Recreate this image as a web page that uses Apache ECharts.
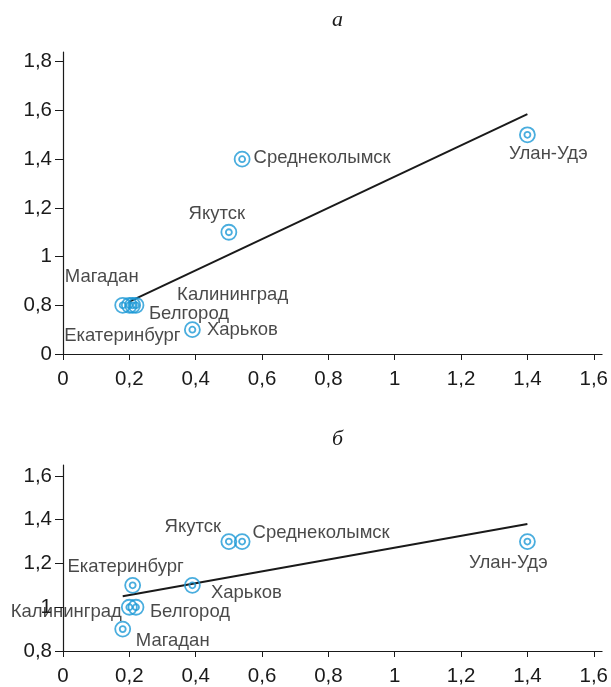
<!DOCTYPE html>
<html>
<head>
<meta charset="utf-8">
<script src="https://cdn.jsdelivr.net/npm/echarts@6/dist/echarts.min.js"></script>
<style>
  html, body { margin: 0; padding: 0; background: #fff; }
  #chart { width: 611px; height: 687px; }
</style>
</head>
<body>
<div id="chart"></div>
<script>
// города (одинаковый порядок для обеих панелей)
var cities = ['Магадан', 'Екатеринбург', 'Калининград', 'Белгород', 'Харьков', 'Якутск', 'Среднеколымск', 'Улан-Удэ'];

// панель а (ось y с разрывом: нижняя метка "0" стоит на месте 0,6)
var xA = [0.18, 0.20, 0.21, 0.22, 0.39, 0.50, 0.54, 1.40];
var yA = [0.8, 0.8, 0.8, 0.8, 0.7, 1.1, 1.4, 1.5];
var trendA = [[0.2, 0.815], [1.4, 1.585]];

// панель б
var xB = [0.18, 0.21, 0.20, 0.22, 0.39, 0.50, 0.54, 1.40];
var yB = [0.9, 1.1, 1.0, 1.0, 1.1, 1.3, 1.3, 1.3];
var trendB = [[0.18, 1.05], [1.4, 1.38]];

// подписи осей
var xTicks = [0, 0.2, 0.4, 0.6, 0.8, 1, 1.2, 1.4, 1.6];
var yTicksA = [0.6, 0.8, 1, 1.2, 1.4, 1.6, 1.8];
var yTicksB = [0.8, 1, 1.2, 1.4, 1.6];

// смещения подписей городов (px от центра значка)
var offA = {
    'Магадан': [-21, -28], 'Екатеринбург': [-7, 31], 'Калининград': [100, -10], 'Белгород': [53, 9],
    'Харьков': [50, 0], 'Якутск': [-12, -18], 'Среднеколымск': [80, -1], 'Улан-Удэ': [21, 19]
};
var offB = {
    'Магадан': [50, 12], 'Екатеринбург': [-7, -18], 'Калининград': [-63, 5], 'Белгород': [54, 5],
    'Харьков': [54, 8], 'Якутск': [-36, -15], 'Среднеколымск': [79, -9], 'Улан-Удэ': [-19, 21]
};

var ink = '#1a1a1a';
var blue = '#1b98d6';
var font = 'Liberation Sans';

function fmt(v) {
    return String(Math.round(v * 10) / 10).replace('.', ',');
}

function points(xs, ys, offs) {
    return cities.map(function(c, i) {
        return {
            name: c,
            value: [xs[i], ys[i]],
            label: { offset: offs[c] }
        };
    });
}

function xAxis(idx) {
    return {
        type: 'value', gridIndex: idx, min: 0, max: 1.625,
        splitLine: { show: false },
        axisLine: { onZero: false, lineStyle: { color: ink, width: 1.2 } },
        axisTick: { length: 6, customValues: xTicks, lineStyle: { color: ink } },
        axisLabel: { customValues: xTicks, formatter: fmt, color: ink, fontSize: 20.5, fontFamily: font, margin: 15 }
    };
}

function yAxis(idx, min, max, ticks, zeroAt) {
    return {
        type: 'value', gridIndex: idx, min: min, max: max,
        splitLine: { show: false },
        axisLine: { show: true, lineStyle: { color: ink, width: 1.2 } },
        axisTick: { show: true, length: 8, customValues: ticks, lineStyle: { color: ink } },
        axisLabel: {
            customValues: ticks, color: ink, fontSize: 20.5, fontFamily: font, margin: 11,
            formatter: function(v) { return v === zeroAt ? '0' : fmt(v); }
        }
    };
}

function ringSeries(idx, data, size, withLabel) {
    return {
        type: 'scatter', xAxisIndex: idx, yAxisIndex: idx,
        symbol: 'circle', symbolSize: size, silent: true,
        itemStyle: { color: 'rgba(255,255,255,0)', borderColor: blue, borderWidth: 1.8 },
        label: {
            show: withLabel, position: 'inside', formatter: '{b}',
            color: ink, fontSize: 18.5, fontFamily: font
        },
        data: data,
        z: 3
    };
}

function trendSeries(idx, data) {
    return {
        type: 'line', xAxisIndex: idx, yAxisIndex: idx,
        data: data, symbol: 'none', silent: true,
        lineStyle: { color: ink, width: 2 }, z: 2
    };
}

var chart = echarts.init(document.getElementById('chart'));

var option = {
    animation: false,
    backgroundColor: '#fff',
    title: [
        { text: 'а', left: 327, top: 4, textStyle: { fontFamily: 'Liberation Serif', fontStyle: 'italic', fontWeight: 'normal', fontSize: 22, color: ink } },
        { text: 'б', left: 327, top: 423, textStyle: { fontFamily: 'Liberation Serif', fontStyle: 'italic', fontWeight: 'normal', fontSize: 22, color: ink } }
    ],
    grid: [
        { left: 63, top: 52, width: 541, height: 302 },
        { left: 63, top: 465, width: 541, height: 191 }
    ],
    xAxis: [xAxis(0), xAxis(1)],
    yAxis: [
        yAxis(0, 0.6, 1.84, yTicksA, 0.6),
        yAxis(1, 0.8, 1.65, yTicksB, null)
    ],
    series: [
        trendSeries(0, trendA),
        ringSeries(0, points(xA, yA, offA), 15, true),
        ringSeries(0, points(xA, yA, offA), 6, false),
        trendSeries(1, trendB),
        ringSeries(1, points(xB, yB, offB), 15, true),
        ringSeries(1, points(xB, yB, offB), 6, false)
    ]
};

chart.setOption(option);
</script>
</body>
</html>
